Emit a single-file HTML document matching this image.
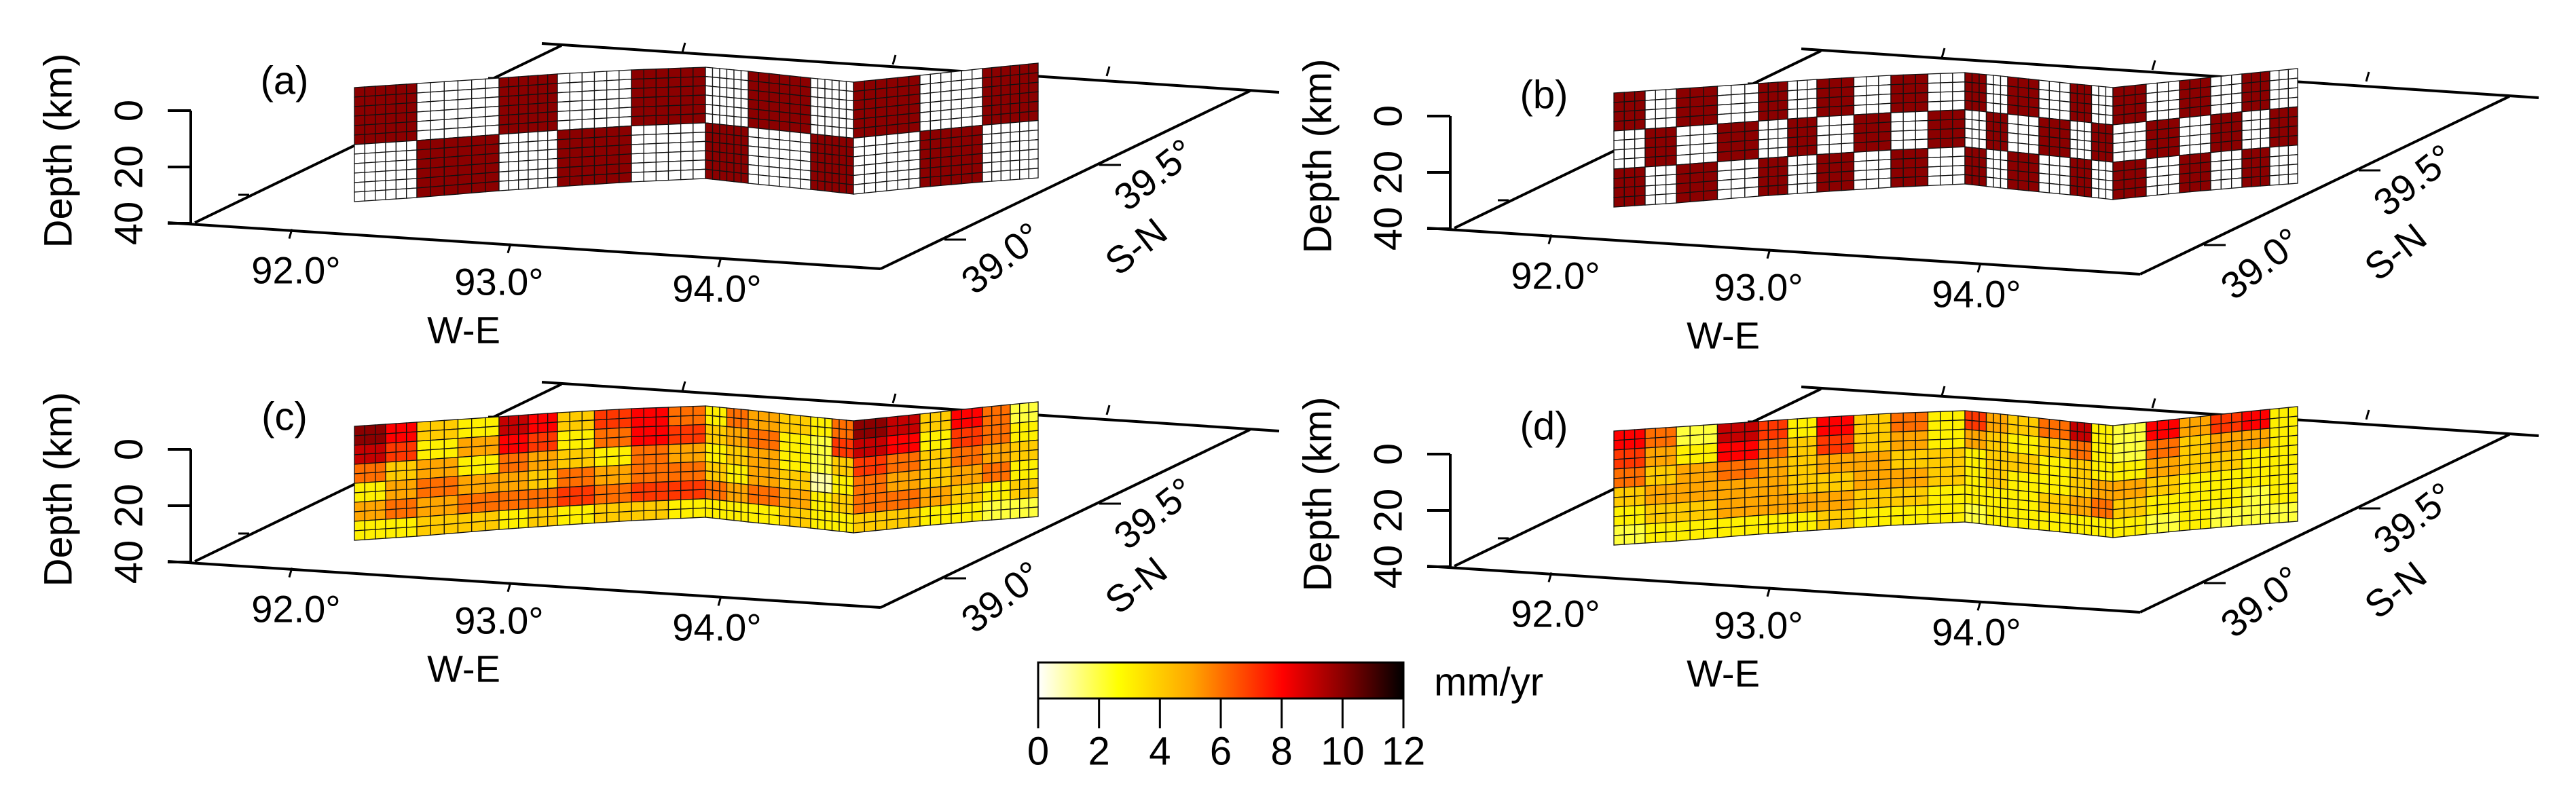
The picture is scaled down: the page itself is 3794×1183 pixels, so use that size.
<!DOCTYPE html>
<html><head><meta charset="utf-8">
<style>
html,body{margin:0;padding:0;background:#fff;}
svg{display:block;}
text{font-family:"Liberation Sans",Arial,sans-serif;fill:#000;}
</style></head>
<body>
<svg id="fig" xmlns="http://www.w3.org/2000/svg" width="3794" height="1183" viewBox="0 0 3794 1183">
<defs>
<linearGradient id="heat" x1="0" x2="1" y1="0" y2="0">
<stop offset="0" stop-color="#ffffff"/>
<stop offset="0.09" stop-color="#ffff99"/>
<stop offset="0.22" stop-color="#ffff00"/>
<stop offset="0.42" stop-color="#ffa500"/>
<stop offset="0.67" stop-color="#ff0000"/>
<stop offset="0.83" stop-color="#8b0000"/>
<stop offset="1" stop-color="#000000"/>
</linearGradient>
</defs>
</svg>
<script>
// ---- data ----
const depthTicks = [0, 20, 40];
const lonTicks = ["92.0°", "93.0°", "94.0°"];
const latTicks = ["39.0°", "39.5°"];
const cbarTicks = [0, 2, 4, 6, 8, 10, 12];
const panelLetters = ["(a)", "(b)", "(c)", "(d)"];
// checkerboard inputs (1 = high slip, 0 = zero)
const checkerA = [
 [1,0,1,0,1,0,1,0,1,0,1],
 [0,1,0,1,0,1,0,1,0,1,0]
];
const checkerB = [
 [1,0,1,0,1,0,1,0,1,0,1,0,1,0,1,0,1,0,1,0,1,0],
 [0,1,0,1,0,1,0,1,0,1,0,1,0,1,0,1,0,1,0,1,0,1],
 [1,0,1,0,1,0,1,0,1,0,1,0,1,0,1,0,1,0,1,0,1,0]
];
// recovered slip rates (mm/yr), 6 depth rows x 22 along-strike groups
const recoveredC = [
 [10,8,4,3,9,8,4,7,8,6,3,6,5,4,3,6,10,9,4,8,6,2],
 [9,7,3,5,8,7,3,6,8,7,4,5,6,3,2,7,9,8,3,7,6,3],
 [6,4,5,3,6,5,4,3,6,5,3,4,5,3,2,4,7,6,4,6,5,4],
 [3,5,6,5,5,4,6,5,6,6,4,3,5,4,1,3,6,5,4,5,6,3],
 [5,6,5,6,6,6,7,6,7,7,6,5,6,5,3,4,6,6,5,4,3,4],
 [3,3,4,4,3,4,3,4,4,3,3,3,3,4,3,3,4,4,3,3,2,2]
];
const recoveredD = [
 [8,6,2,9,7,3,8,4,6,3,7,5,4,6,9,3,2,8,5,7,8,3],
 [7,5,3,8,6,4,7,4,5,3,5,4,3,4,6,3,2,6,4,5,5,3],
 [6,4,5,6,5,4,5,5,4,4,3,4,4,3,4,3,3,5,4,4,3,3],
 [4,5,5,5,5,4,4,5,5,4,3,4,3,3,4,5,5,4,3,3,3,3],
 [3,4,4,5,5,5,5,4,4,3,3,3,3,4,5,6,4,3,3,3,2,3],
 [2,3,3,3,3,3,4,3,3,3,2,3,3,3,3,3,3,2,3,2,2,2]
];

// ---- geometry (panel a frame; others offset) ----
const NS = "http://www.w3.org/2000/svg";
const svg = document.getElementById("fig");
const offsets = [[0,0],[1855,8],[0,499],[1855,506]];
const knotX = [522,614,735,821,930,1039,1102,1194,1257,1355,1447,1529];
const knotTop = [129,123,115,109,103,99,105,115,121,111,101,93];
const knotBot = [297,291,281,275,268,263,270,279,286,276,268,262];
const NCOL = 66, NROW = 12;

function mk(tag, attrs, parent){
  const e = document.createElementNS(NS, tag);
  for (const k in attrs) e.setAttribute(k, attrs[k]);
  (parent||svg).appendChild(e);
  return e;
}
function heat(v){
  const st=[[0,[255,255,255]],[1.1,[255,255,153]],[2.6,[255,255,0]],[5,[255,165,0]],[8,[255,0,0]],[10,[139,0,0]],[12,[0,0,0]]];
  v=Math.max(0,Math.min(12,v));
  for(let i=0;i<st.length-1;i++){
    if(v<=st[i+1][0]){
      const f=(v-st[i][0])/(st[i+1][0]-st[i][0]);
      const c=st[i][1].map((a,j)=>Math.round(a+(st[i+1][1][j]-a)*f));
      return `rgb(${c[0]},${c[1]},${c[2]})`;
    }
  }
  return "#000";
}
function wallPt(c, r, ox, oy){
  const k = c/6; let i = Math.min(Math.floor(k), 10); const f = k - i;
  const x = knotX[i] + (knotX[i+1]-knotX[i])*f;
  const t = knotTop[i] + (knotTop[i+1]-knotTop[i])*f;
  const b = knotBot[i] + (knotBot[i+1]-knotBot[i])*f;
  return [x+ox, t + (b-t)*r/NROW + oy];
}
function line(g,x1,y1,x2,y2,w){
  return mk("line",{x1,y1,x2,y2,stroke:"#000","stroke-width":w||4},g);
}
function txt(g,s,x,y,size,rot,anchor){
  const t = mk("text",{x,y,"font-size":size,"text-anchor":anchor||"middle","dominant-baseline":"central"},g);
  if(rot) t.setAttribute("transform",`rotate(${rot} ${x} ${y})`);
  t.textContent = s;
  return t;
}

const panelNames = ["panel-a-checkerboard-input","panel-b-checkerboard-input","panel-c-recovered-slip","panel-d-recovered-slip"];
for(let p=0;p<4;p++){
  const [ox,oy] = offsets[p];
  const g = mk("g",{});
  
  
  const floor = mk("g",{},g);
  
  
  line(floor,247+ox,328+oy,1297+ox,396+oy);
  line(floor,287+ox,328+oy,827+ox,67+oy);
  line(floor,1297+ox,396+oy,1841+ox,134+oy);
  line(floor,798+ox,64+oy,1884+ox,136+oy);
  [430,752,1062].forEach((x)=>{const y=328+(x-287)*0.0663; line(floor,x+ox,y+oy,x-4+ox,y+14+oy,3);});
  [[1005,77],[1315,95],[1630,112]].forEach(([x,y])=>line(floor,x+ox,y+oy,x+4+ox,y-14+oy,3));
  [[1391,353],[1619,243]].forEach(([x,y])=>line(floor,x+ox,y+oy,x+32+ox,y+oy,3));
  [[367,287],[735,115]].forEach(([x,y])=>line(floor,x+ox,y+oy,x-16+ox,y+oy,3));
  const zax = mk("g",{},g);
  
  
  line(zax,281+ox,163+oy,281+ox,329+oy);
  depthTicks.forEach((d)=>{
    const y = 163 + d/40*166 + oy;
    line(zax,247+ox,y,281+ox,y);
    const t = txt(zax,String(d),190+ox,y,58,-90);
    
    
  });
  const dl = txt(zax,"Depth (km)",86+ox,222+oy,58,-90);
  
  
  const lonPos = [[436,398],[735,415],[1056,425]];
  lonTicks.forEach((s,i)=>{
    const t = txt(g,s,lonPos[i][0]+ox,lonPos[i][1]+oy,56);
    
    
  });
  const we = txt(g,"W-E",683+ox,486+oy,56);
  
  
  const latPos = [[1475,380],[1700,257]];
  latTicks.forEach((s,i)=>{
    const t = txt(g,s,latPos[i][0]+ox,latPos[i][1]+oy,56,-38);
    
    
  });
  const sn = txt(g,"S-N",1673+ox,363+oy,56,-38);
  
  
  const letterPos = [[419,119],[2274,140],[419,614],[2274,628]];
  const L = txt(g,panelLetters[p],letterPos[p][0],letterPos[p][1],58);
  
  

  const wall = mk("g",{},g);
  
  
  for(let r=0;r<NROW;r++){
    for(let c=0;c<NCOL;c++){
      let fill;
      if(p===0){ fill = checkerA[Math.floor(r/6)][Math.floor(c/6)] ? "#8b0000" : "#ffffff"; }
      else if(p===1){ fill = checkerB[Math.floor(r/4)][Math.floor(c/3)] ? "#8b0000" : "#ffffff"; }
      else { const d = p===2 ? recoveredC : recoveredD; fill = heat(d[Math.floor(r/2)][Math.floor(c/3)]); }
      const a=wallPt(c,r,ox,oy), b=wallPt(c+1,r,ox,oy), cc=wallPt(c+1,r+1,ox,oy), dd=wallPt(c,r+1,ox,oy);
      const poly = mk("polygon",{points:`${a} ${b} ${cc} ${dd}`,fill,stroke:"#111","stroke-width":1.3},wall);
      
      
    }
  }
}

const cb = mk("g",{});


const cbx0=1529, cbx1=2067;
const bar = mk("rect",{x:cbx0,y:976,width:cbx1-cbx0,height:53,fill:"url(#heat)",stroke:"#000","stroke-width":3},cb);


cbarTicks.forEach((v)=>{
  const x = cbx0 + (v/12)*(cbx1-cbx0);
  line(cb,x,1029,x,1073,3);
  const t = txt(cb,String(v),x,1107,58);
  
  
});
const unit = txt(cb,"mm/yr",2112,1005,58,0,"start");


</script>
</body></html>
